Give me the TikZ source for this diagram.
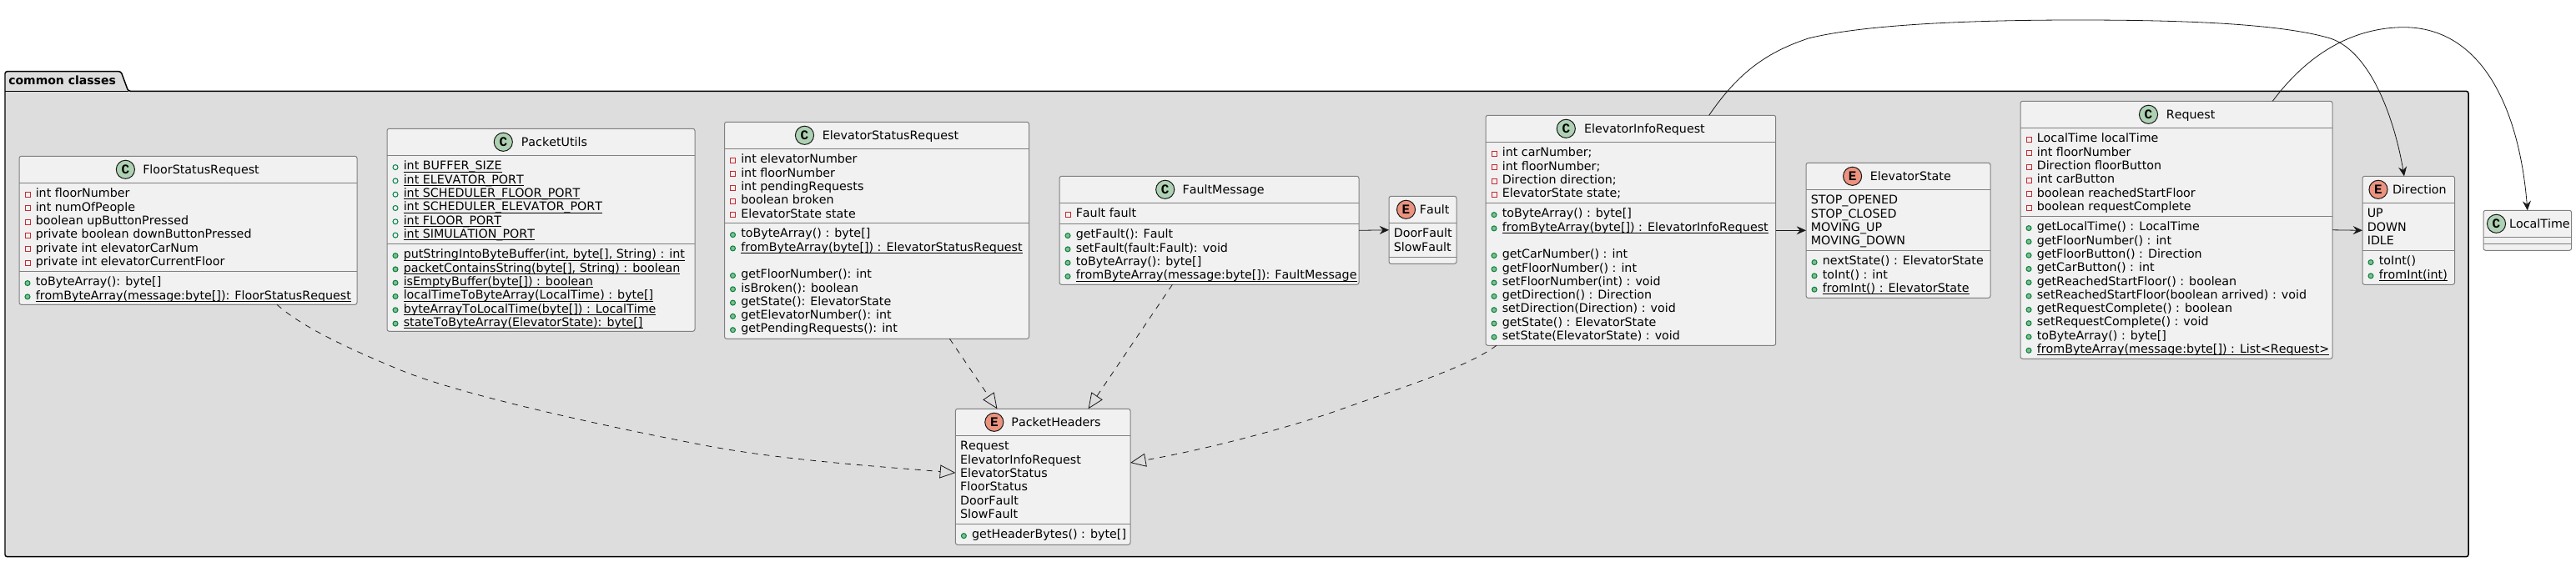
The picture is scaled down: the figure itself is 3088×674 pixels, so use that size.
\documentclass[tikz,border=0pt]{standalone}
\usepackage{fontspec}
\setmainfont{DejaVu Sans}[Kerning=Off]
\newfontfamily\spotfont{Liberation Mono}
\usetikzlibrary{arrows.meta}

\def\pxsize{0.75pt} % One pixel of the class diagram
\newcommand\umlstatic[1]{\setbox0=\hbox{#1}\rlap{\rule[-2.1pt]{\wd0}{0.75pt}}\box0}

\definecolor{packagefill}{HTML}{DDDDDD}
\definecolor{boxfill}{HTML}{F1F1F1}
\definecolor{boxline}{HTML}{808080}
\definecolor{inkline}{HTML}{181818}
\definecolor{classspotfill}{HTML}{ADD1B2}
\definecolor{enumspotfill}{HTML}{EB937F}
\definecolor{privline}{HTML}{C82930}
\definecolor{publine}{HTML}{038048}
\definecolor{pubfill}{HTML}{84BE84}

\tikzset{
  umlbox/.style={draw=boxline, fill=boxfill, line width=\pxsize, rounded corners=1.9pt, outer sep=0pt, inner sep=0pt},
  sepline/.style={draw=boxline, line width=\pxsize},
  rowtext/.style={anchor=base west, inner sep=0pt, font=\fontsize{10.7}{12}\selectfont},
  privmark/.style={draw=privline, line width=\pxsize},
  fieldmark/.style={draw=publine, line width=\pxsize},
  methodmark/.style={draw=publine, fill=pubfill, line width=\pxsize},
  privrow/.style={rowtext, append after command={\pgfextra{\draw[privmark] ([shift={(-12.5,-6.2)}]\tikzlastnode.base west) rectangle +(6,6);}}},
  fieldrow/.style={rowtext, append after command={\pgfextra{\draw[fieldmark] ([shift={(-9.5,-3.2)}]\tikzlastnode.base west) circle (2.25pt);}}},
  methodrow/.style={rowtext, append after command={\pgfextra{\draw[methodmark] ([shift={(-9.5,-3.2)}]\tikzlastnode.base west) circle (2.25pt);}}},
  spot/.style={circle, draw=inkline, line width=\pxsize, minimum size=16.6pt, inner sep=0pt, font=\spotfont\bfseries\fontsize{12}{12}\selectfont},
  classspot/.style={spot, fill=classspotfill},
  enumspot/.style={spot, fill=enumspotfill},
  realizes/.style={draw=inkline, line width=0.6pt, dash pattern=on 5.25pt off 5.25pt, -{Triangle[open,length=14pt,width=12pt]}},
  uses/.style={draw=inkline, line width=0.6pt, -{Stealth[length=8.5pt,width=7.5pt,inset=3pt]}}
}

\begin{document}
\begin{tikzpicture}[x=\pxsize, y=-\pxsize]
\useasboundingbox (0,0) rectangle (3088,674);

% Draw the package with its tab
\draw[fill=packagefill, line width=1.1pt, rounded corners=2pt] (6,109.3) -- (6,85.7) -- (145,85.7) -- (153.7,109.3) -- (2959,109.3) -- (2959,667.7) -- (6,667.7) -- cycle;
\draw[line width=1.1pt] (6,109.3) -- (153.7,109.3);
\node[rowtext, font=\fontsize{10.5}{12}\selectfont\bfseries] (package_title) at (10,102) {common classes};

% FloorStatusRequest
\node[umlbox, minimum width=405*\pxsize, minimum height=178*\pxsize] (floor) at (225.5,276.3) {};
\draw[sepline] (floor.west |- 0,219.3) -- (floor.east |- 0,219.3);
\draw[sepline] (floor.west |- 0,325.3) -- (floor.east |- 0,325.3);
\node[classspot] (floor_spot) at (150.4,203.3) {C};
\node[rowtext] (floor_title) at (171,208.3) {FloorStatusRequest};
\node[privrow] (floor_a1) at (42.5,236.8) {int floorNumber};
\node[privrow] (floor_a2) at (42.5,253.1) {int numOfPeople};
\node[privrow] (floor_a3) at (42.5,269.4) {boolean upButtonPressed};
\node[privrow] (floor_a4) at (42.5,285.7) {private boolean downButtonPressed};
\node[privrow] (floor_a5) at (42.5,302) {private int elevatorCarNum};
\node[privrow] (floor_a6) at (42.5,318.3) {private int elevatorCurrentFloor};
\node[methodrow] (floor_m1) at (42.5,342.8) {toByteArray(): byte[]};
\node[methodrow] (floor_m2) at (42.5,359.1) {\umlstatic{fromByteArray(message:byte[]): FloorStatusRequest}};

% PacketUtils
\node[umlbox, minimum width=369*\pxsize, minimum height=243*\pxsize] (utils) at (648.5,275.8) {};
\draw[sepline] (utils.west |- 0,186.3) -- (utils.east |- 0,186.3);
\draw[sepline] (utils.west |- 0,292.3) -- (utils.east |- 0,292.3);
\node[classspot] (utils_spot) at (603.3,170.3) {C};
\node[rowtext] (utils_title) at (624.6,175.3) {PacketUtils};
\node[fieldrow] (utils_a1) at (483.5,203.8) {\umlstatic{int BUFFER\_SIZE}};
\node[fieldrow] (utils_a2) at (483.5,220.1) {\umlstatic{int ELEVATOR\_PORT}};
\node[fieldrow] (utils_a3) at (483.5,236.4) {\umlstatic{int SCHEDULER\_FLOOR\_PORT}};
\node[fieldrow] (utils_a4) at (483.5,252.7) {\umlstatic{int SCHEDULER\_ELEVATOR\_PORT}};
\node[fieldrow] (utils_a5) at (483.5,269) {\umlstatic{int FLOOR\_PORT}};
\node[fieldrow] (utils_a6) at (483.5,285.3) {\umlstatic{int SIMULATION\_PORT}};
\node[methodrow] (utils_m1) at (483.5,309.8) {\umlstatic{putStringIntoByteBuffer(int, byte[], String) : int}};
\node[methodrow] (utils_m2) at (483.5,326.1) {\umlstatic{packetContainsString(byte[], String) : boolean}};
\node[methodrow] (utils_m3) at (483.5,342.4) {\umlstatic{isEmptyBuffer(byte[]) : boolean}};
\node[methodrow] (utils_m4) at (483.5,358.7) {\umlstatic{localTimeToByteArray(LocalTime) : byte[]}};
\node[methodrow] (utils_m5) at (483.5,375) {\umlstatic{byteArrayToLocalTime(byte[]) : LocalTime}};
\node[methodrow] (utils_m6) at (483.5,391.3) {\umlstatic{stateToByteArray(ElevatorState): byte[]}};

% ElevatorStatusRequest
\node[umlbox, minimum width=365*\pxsize, minimum height=260*\pxsize] (status) at (1051,276.3) {};
\draw[sepline] (status.west |- 0,178.3) -- (status.east |- 0,178.3);
\draw[sepline] (status.west |- 0,267.3) -- (status.east |- 0,267.3);
\node[classspot] (status_spot) at (964.5,162.3) {C};
\node[rowtext] (status_title) at (985.7,167.3) {ElevatorStatusRequest};
\node[privrow] (status_a1) at (888,195.8) {int elevatorNumber};
\node[privrow] (status_a2) at (888,212.1) {int floorNumber};
\node[privrow] (status_a3) at (888,228.4) {int pendingRequests};
\node[privrow] (status_a4) at (888,244.7) {boolean broken};
\node[privrow] (status_a5) at (888,261) {ElevatorState state};
\node[methodrow] (status_m1) at (888,284.8) {toByteArray() : byte[]};
\node[methodrow] (status_m2) at (888,301.1) {\umlstatic{fromByteArray(byte[]) : ElevatorStatusRequest}};
\node[methodrow] (status_m3) at (888,333.7) {getFloorNumber(): int};
\node[methodrow] (status_m4) at (888,350) {isBroken(): boolean};
\node[methodrow] (status_m5) at (888,366.3) {getState(): ElevatorState};
\node[methodrow] (status_m6) at (888,382.6) {getElevatorNumber(): int};
\node[methodrow] (status_m7) at (888,398.9) {getPendingRequests(): int};

% FaultMessage
\node[umlbox, minimum width=359*\pxsize, minimum height=130*\pxsize] (faultmsg) at (1449.5,276.3) {};
\draw[sepline] (faultmsg.west |- 0,243.3) -- (faultmsg.east |- 0,243.3);
\draw[sepline] (faultmsg.west |- 0,268.3) -- (faultmsg.east |- 0,268.3);
\node[classspot] (faultmsg_spot) at (1396.7,227.3) {C};
\node[rowtext] (faultmsg_title) at (1417.4,232.3) {FaultMessage};
\node[privrow] (faultmsg_a1) at (1289.5,260.8) {Fault fault};
\node[methodrow] (faultmsg_m1) at (1289.5,285.8) {getFault(): Fault};
\node[methodrow] (faultmsg_m2) at (1289.5,302.1) {setFault(fault:Fault): void};
\node[methodrow] (faultmsg_m3) at (1289.5,318.4) {toByteArray(): byte[]};
\node[methodrow] (faultmsg_m4) at (1289.5,334.7) {\umlstatic{fromByteArray(message:byte[]): FaultMessage}};

% Fault
\node[umlbox, minimum width=81*\pxsize, minimum height=81*\pxsize] (fault) at (1705.5,275.8) {};
\draw[sepline] (fault.west |- 0,267.3) -- (fault.east |- 0,267.3);
\draw[sepline] (fault.west |- 0,308.3) -- (fault.east |- 0,308.3);
\node[enumspot] (fault_spot) at (1685.5,251.3) {E};
\node[rowtext] (fault_title) at (1701.6,256.3) {Fault};
\node[rowtext] (fault_c1) at (1670.5,284.8) {DoorFault};
\node[rowtext] (fault_c2) at (1670.5,301.1) {SlowFault};

% ElevatorInfoRequest
\node[umlbox, minimum width=347.7*\pxsize, minimum height=276*\pxsize] (info) at (1954.85,276.3) {};
\draw[sepline] (info.west |- 0,170.3) -- (info.east |- 0,170.3);
\draw[sepline] (info.west |- 0,243.3) -- (info.east |- 0,243.3);
\node[classspot] (info_spot) at (1877.3,154.3) {C};
\node[rowtext] (info_title) at (1898.8,159.3) {ElevatorInfoRequest};
\node[privrow] (info_a1) at (1800.5,187.8) {int carNumber;};
\node[privrow] (info_a2) at (1800.5,204.1) {int floorNumber;};
\node[privrow] (info_a3) at (1800.5,220.4) {Direction direction;};
\node[privrow] (info_a4) at (1800.5,236.7) {ElevatorState state;};
\node[methodrow] (info_m1) at (1800.5,260.8) {toByteArray() : byte[]};
\node[methodrow] (info_m2) at (1800.5,277.1) {\umlstatic{fromByteArray(byte[]) : ElevatorInfoRequest}};
\node[methodrow] (info_m3) at (1800.5,309.7) {getCarNumber() : int};
\node[methodrow] (info_m4) at (1800.5,326) {getFloorNumber() : int};
\node[methodrow] (info_m5) at (1800.5,342.3) {setFloorNumber(int) : void};
\node[methodrow] (info_m6) at (1800.5,358.6) {getDirection() : Direction};
\node[methodrow] (info_m7) at (1800.5,374.9) {setDirection(Direction) : void};
\node[methodrow] (info_m8) at (1800.5,391.2) {getState() : ElevatorState};
\node[methodrow] (info_m9) at (1800.5,407.5) {setState(ElevatorState) : void};

% ElevatorState
\node[umlbox, minimum width=221*\pxsize, minimum height=162*\pxsize] (state) at (2275.5,276.3) {};
\draw[sepline] (state.west |- 0,227.3) -- (state.east |- 0,227.3);
\draw[sepline] (state.west |- 0,300.3) -- (state.east |- 0,300.3);
\node[enumspot] (state_spot) at (2220.6,211.3) {E};
\node[rowtext] (state_title) at (2241.6,216.3) {ElevatorState};
\node[rowtext] (state_c1) at (2170.5,244.8) {STOP\_OPENED};
\node[rowtext] (state_c2) at (2170.5,261.1) {STOP\_CLOSED};
\node[rowtext] (state_c3) at (2170.5,277.4) {MOVING\_UP};
\node[rowtext] (state_c4) at (2170.5,293.7) {MOVING\_DOWN};
\node[methodrow] (state_m1) at (2184.5,317.8) {nextState() : ElevatorState};
\node[methodrow] (state_m2) at (2184.5,334.1) {toInt() : int};
\node[methodrow] (state_m3) at (2184.5,350.4) {\umlstatic{fromInt() : ElevatorState}};

% Request
\node[umlbox, minimum width=374*\pxsize, minimum height=309*\pxsize] (request) at (2609,275.8) {};
\draw[sepline] (request.west |- 0,153.3) -- (request.east |- 0,153.3);
\draw[sepline] (request.west |- 0,259.3) -- (request.east |- 0,259.3);
\node[classspot] (request_spot) at (2575.5,137.3) {C};
\node[rowtext] (request_title) at (2596.6,142.3) {Request};
\node[privrow] (request_a1) at (2441.5,170.8) {LocalTime localTime};
\node[privrow] (request_a2) at (2441.5,187.1) {int floorNumber};
\node[privrow] (request_a3) at (2441.5,203.4) {Direction floorButton};
\node[privrow] (request_a4) at (2441.5,219.7) {int carButton};
\node[privrow] (request_a5) at (2441.5,236) {boolean reachedStartFloor};
\node[privrow] (request_a6) at (2441.5,252.3) {boolean requestComplete};
\node[methodrow] (request_m1) at (2441.5,276.8) {getLocalTime() : LocalTime};
\node[methodrow] (request_m2) at (2441.5,293.1) {getFloorNumber() : int};
\node[methodrow] (request_m3) at (2441.5,309.4) {getFloorButton() : Direction};
\node[methodrow] (request_m4) at (2441.5,325.7) {getCarButton() : int};
\node[methodrow] (request_m5) at (2441.5,342) {getReachedStartFloor() : boolean};
\node[methodrow] (request_m6) at (2441.5,358.3) {setReachedStartFloor(boolean arrived) : void};
\node[methodrow] (request_m7) at (2441.5,374.6) {getRequestComplete() : boolean};
\node[methodrow] (request_m8) at (2441.5,390.9) {setRequestComplete() : void};
\node[methodrow] (request_m9) at (2441.5,407.2) {toByteArray() : byte[]};
\node[methodrow] (request_m10) at (2441.5,423.5) {\umlstatic{fromByteArray(message:byte[]) : List<Request>}};

% Direction
\node[umlbox, minimum width=110.5*\pxsize, minimum height=130*\pxsize] (direction) at (2887.25,276.3) {};
\draw[sepline] (direction.west |- 0,243.3) -- (direction.east |- 0,243.3);
\draw[sepline] (direction.west |- 0,300.3) -- (direction.east |- 0,300.3);
\node[enumspot] (direction_spot) at (2851,227.3) {E};
\node[rowtext] (direction_title) at (2867.7,232.3) {Direction};
\node[rowtext] (direction_c1) at (2837.5,260.8) {UP};
\node[rowtext] (direction_c2) at (2837.5,277.1) {DOWN};
\node[rowtext] (direction_c3) at (2837.5,293.4) {IDLE};
\node[methodrow] (direction_m1) at (2851.5,317.8) {toInt()};
\node[methodrow] (direction_m2) at (2851.5,334.1) {\umlstatic{fromInt(int)}};

% LocalTime
\node[umlbox, minimum width=105.6*\pxsize, minimum height=48*\pxsize] (localtime) at (3029.8,276.3) {};
\draw[sepline] (localtime.west |- 0,284.3) -- (localtime.east |- 0,284.3);
\draw[sepline] (localtime.west |- 0,292.3) -- (localtime.east |- 0,292.3);
\node[classspot] (localtime_spot) at (2992.5,268.3) {C};
\node[rowtext] (localtime_title) at (3007.8,273.3) {LocalTime};

% PacketHeaders
\node[umlbox, minimum width=209.6*\pxsize, minimum height=163*\pxsize] (headers) at (1250.2,571.8) {};
\draw[sepline] (headers.west |- 0,522.3) -- (headers.east |- 0,522.3);
\draw[sepline] (headers.west |- 0,628.3) -- (headers.east |- 0,628.3);
\node[enumspot] (headers_spot) at (1191.8,506.3) {E};
\node[rowtext] (headers_title) at (1212.2,511.3) {PacketHeaders};
\node[rowtext] (headers_c1) at (1150.9,539.8) {Request};
\node[rowtext] (headers_c2) at (1150.9,556.1) {ElevatorInfoRequest};
\node[rowtext] (headers_c3) at (1150.9,572.4) {ElevatorStatus};
\node[rowtext] (headers_c4) at (1150.9,588.7) {FloorStatus};
\node[rowtext] (headers_c5) at (1150.9,605) {DoorFault};
\node[rowtext] (headers_c6) at (1150.9,621.3) {SlowFault};
\node[methodrow] (headers_m1) at (1164.9,645.8) {getHeaderBytes() : byte[]};

% Draw the connectors
\draw[realizes] ([xshift=106.5*\pxsize]floor.south) .. controls (365,395) and (430,423) .. (478.8,443.3) .. controls (560,477) and (760,518) .. (849.4,535) .. controls (940,552) and (1060,560) .. ([yshift=4.8*\pxsize]headers.west);
\draw[realizes] ([xshift=87.4*\pxsize]status.south) -- ([xshift=-54.8*\pxsize]headers.north);
\draw[realizes] ([xshift=-44.1*\pxsize]faultmsg.south) -- ([xshift=54.4*\pxsize]headers.north);
\draw[realizes] ([xshift=-161*\pxsize]info.south) .. controls (1760,440) and (1680,465) .. (1610,490) .. controls (1540,515) and (1440,540) .. ([yshift=16.8*\pxsize]headers.east);
\draw[uses] (faultmsg.east) -- (fault.west);
\draw[uses] (info.east) -- (state.west);
\draw[uses] (request.east) -- (direction.west);
\draw[uses] ([xshift=93.85*\pxsize]info.north) .. controls (2085,85) and (2120,62) .. (2167.8,46) .. controls (2240,28) and (2380,24) .. (2489,24) .. controls (2600,24) and (2725,27) .. (2790,45) .. controls (2840,58) and (2870,140) .. ([xshift=-5.25*\pxsize]direction.north);
\draw[uses] ([xshift=115.3*\pxsize]request.north) .. controls (2770,60) and (2825,33) .. (2881.7,32.7) .. controls (2975,33) and (3020,130) .. (localtime.north);
\end{tikzpicture}
\end{document}
